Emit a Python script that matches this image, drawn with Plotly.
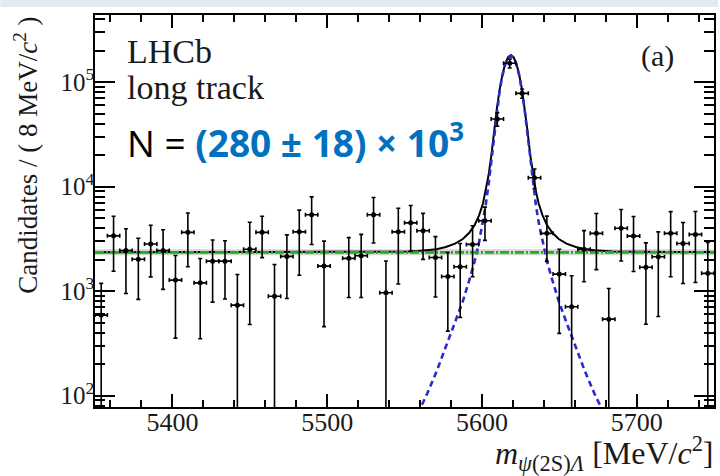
import plotly.graph_objects as go

# ---- binned candidates (8 MeV bins) ----
mass_centers = [5354, 5362, 5370, 5378, 5386, 5394, 5402, 5410, 5418, 5426,
                5434, 5442, 5450, 5458, 5466, 5474, 5482, 5490, 5498, 5506,
                5514, 5522, 5530, 5538, 5546, 5554, 5562, 5570, 5578, 5586,
                5594, 5602, 5610, 5618, 5626, 5634, 5642, 5650, 5658, 5666,
                5674, 5682, 5690, 5698, 5706, 5714, 5722, 5730, 5738, 5746]
candidates = [590, 3380, 2450, 2020, 2820, 2450, 1275, 3650, 1200, 1935,
              1935, 735, 2520, 3650, 895, 2150, 3690, 5380, 1735, None,
              2060, 2180, 5380, 965, 3690, 4500, 3780, 2100, 1380, 1710,
              2800, 4710, 44300, 151000, 77900, 12140, 3570, 1455, 710, 2510,
              3570, 540, 3990, 3360, 1690, 2130, 3570, 2860, 3490, 1480]
cand_err = [596, 1830, 1500, 1185, 1450, 1410, 920, 1940, 850, 1150,
            1095, 710, 2040, 1560, 905, 1300, 2270, 2590, 1277, None,
            1190, 1310, 2490, 975, 2520, 2095, 1767, 1220, 965, 1150,
            1425, 1650, 6500, 14700, 8000, 2600, 1645, 1060, 695, 1280,
            1965, 520, 2045, 1820, 1207, 1557, 2195, 1678, 2280, 1450]
half_bin = 4

# ---- fit components ----
sig_mass = [5350, 5450, 5520,
            5552.7, 5558.7, 5564.7, 5570.7, 5576.7, 5582.7, 5587.7, 5591.7, 5595.2, 5598.2,
            5600.7, 5602.5, 5604.3, 5606.1, 5607.9, 5609.7, 5611.5, 5613.3, 5615.1, 5616.9,
            5618.7,
            5620.5, 5622.3, 5624.1, 5625.9, 5627.7, 5629.5, 5631.3, 5633.1, 5634.9, 5636.7,
            5639.2, 5642.2, 5645.7, 5649.7, 5654.7, 5660.7, 5666.7, 5672.7, 5678.7, 5684.7,
            5720, 5750]
sig_vals = [3, 8, 20,
            45, 68, 105, 170, 290, 500, 800, 1250, 1900, 2950,
            4550, 6700, 10400, 17430, 31550, 53600, 82680, 115820, 147350, 170250,
            178650,
            170250, 147350, 115820, 82680, 53600, 31550, 17430, 10400, 6700, 4550,
            2950, 1900, 1250, 800, 500, 290, 170, 105, 68, 45,
            20, 12]
bkg_level = 2350
mass_range = [5350, 5750]

total_vals = [s + bkg_level for s in sig_vals]

# ---- layout geometry (pixels) ----
W, H = 720, 476
L, R, T, B = 95, 4, 15, 69
PW, PH = W - L - R, H - T - B


def px(x):
    return (x - L) / PW


def py(y):
    return (H - B - y) / PH


SERIF = "Liberation Serif, Times New Roman, serif"
INK = "#1a1a1a"

fig = go.Figure()

# background band
fig.add_trace(go.Scatter(x=mass_range, y=[bkg_level, bkg_level], mode="lines",
                         line=dict(color="rgba(175,175,175,0.55)", width=6),
                         hoverinfo="skip", showlegend=False))
# total fit
fig.add_trace(go.Scatter(x=sig_mass, y=total_vals, mode="lines",
                         line=dict(color="black", width=2),
                         hoverinfo="skip", showlegend=False))
# signal
fig.add_trace(go.Scatter(x=sig_mass, y=sig_vals, mode="lines",
                         line=dict(color="#2a2ad0", width=2.6, dash="6px,4px"),
                         hoverinfo="skip", showlegend=False))
# combinatorial background
fig.add_trace(go.Scatter(x=mass_range, y=[bkg_level, bkg_level], mode="lines",
                         line=dict(color="#19b219", width=2.8, dash="9px,2px,2px,2px"),
                         hoverinfo="skip", showlegend=False))
# data
fig.add_trace(go.Scatter(
    x=mass_centers, y=candidates, mode="markers",
    marker=dict(color="black", size=5),
    error_y=dict(type="data", array=cand_err, visible=True,
                 color="black", thickness=1.6, width=2),
    error_x=dict(type="constant", value=half_bin, visible=True,
                 color="black", thickness=1.6, width=2),
    showlegend=False))

decades = [100, 1000, 10000, 100000]
minor_vals = [m * d for d in [10] + decades for m in range(2, 10)]

fig.update_layout(
    width=W, height=H,
    margin=dict(l=L, r=R, t=T, b=B),
    paper_bgcolor="white", plot_bgcolor="white",
    showlegend=False,
    xaxis=dict(
        range=mass_range, tickvals=[5400, 5500, 5600, 5700],
        ticks="inside", ticklen=13, tickwidth=1.5, tickcolor="black",
        showline=True, linewidth=1.6, linecolor="black", mirror="allticks",
        showgrid=False, zeroline=False,
        tickfont=dict(family=SERIF, size=26, color=INK),
        ticklabelstandoff=-9,
        minor=dict(tick0=5400, dtick=20, ticks="inside", ticklen=7,
                   tickwidth=1.5, tickcolor="black", showgrid=False),
    ),
    yaxis=dict(
        type="log", range=[1.892, 5.641],
        tickvals=decades,
        ticktext=["10<sup>2</sup>", "10<sup>3</sup>", "10<sup>4</sup>", "10<sup>5</sup>"],
        ticks="inside", ticklen=20, tickwidth=1.5, tickcolor="black",
        showline=True, linewidth=1.6, linecolor="black", mirror="allticks",
        showgrid=False, zeroline=False,
        tickfont=dict(family=SERIF, size=25, color=INK),
        ticklabelstandoff=-6,
        minor=dict(tickvals=minor_vals, ticks="inside", ticklen=10,
                   tickwidth=1.5, tickcolor="black", showgrid=False),
    ),
    shapes=[dict(type="rect", xref="paper", yref="paper",
                 x0=px(0), x1=px(W), y0=py(7), y1=py(0),
                 fillcolor="rgb(228,234,240)", line=dict(width=0), layer="below")],
)

annotations = [
    dict(text="LHCb", x=px(125), y=py(52), xanchor="left", yanchor="middle",
         font=dict(family=SERIF, size=34, color=INK)),
    dict(text="long track", x=px(125), y=py(88), xanchor="left", yanchor="middle",
         font=dict(family=SERIF, size=34, color=INK)),
    dict(text="N = <span style='color:#0070C0'><b>(280 ± 18) × 10<sup>3</sup></b></span>",
         x=px(125), y=py(140), xanchor="left", yanchor="middle",
         font=dict(family="Open Sans", size=37, color="black")),
    dict(text="(a)", x=px(659), y=py(56), xanchor="center", yanchor="middle",
         font=dict(family=SERIF, size=30, color=INK)),
    dict(text="Candidates / ( 8 MeV/<i>c</i><sup>2</sup> )", textangle=-90,
         x=px(25), y=py(15), xanchor="center", yanchor="top",
         font=dict(family=SERIF, size=27, color=INK)),
    dict(text="<i>m</i><sub><i>ψ</i>(2S)<i>Λ</i></sub> [MeV/<i>c</i><sup>2</sup>]",
         x=px(718), y=py(453), xanchor="right", yanchor="middle",
         font=dict(family=SERIF, size=32, color=INK)),
]
for a in annotations:
    a.update(xref="paper", yref="paper", showarrow=False)
fig.update_layout(annotations=annotations)

fig.write_html("out.html")
